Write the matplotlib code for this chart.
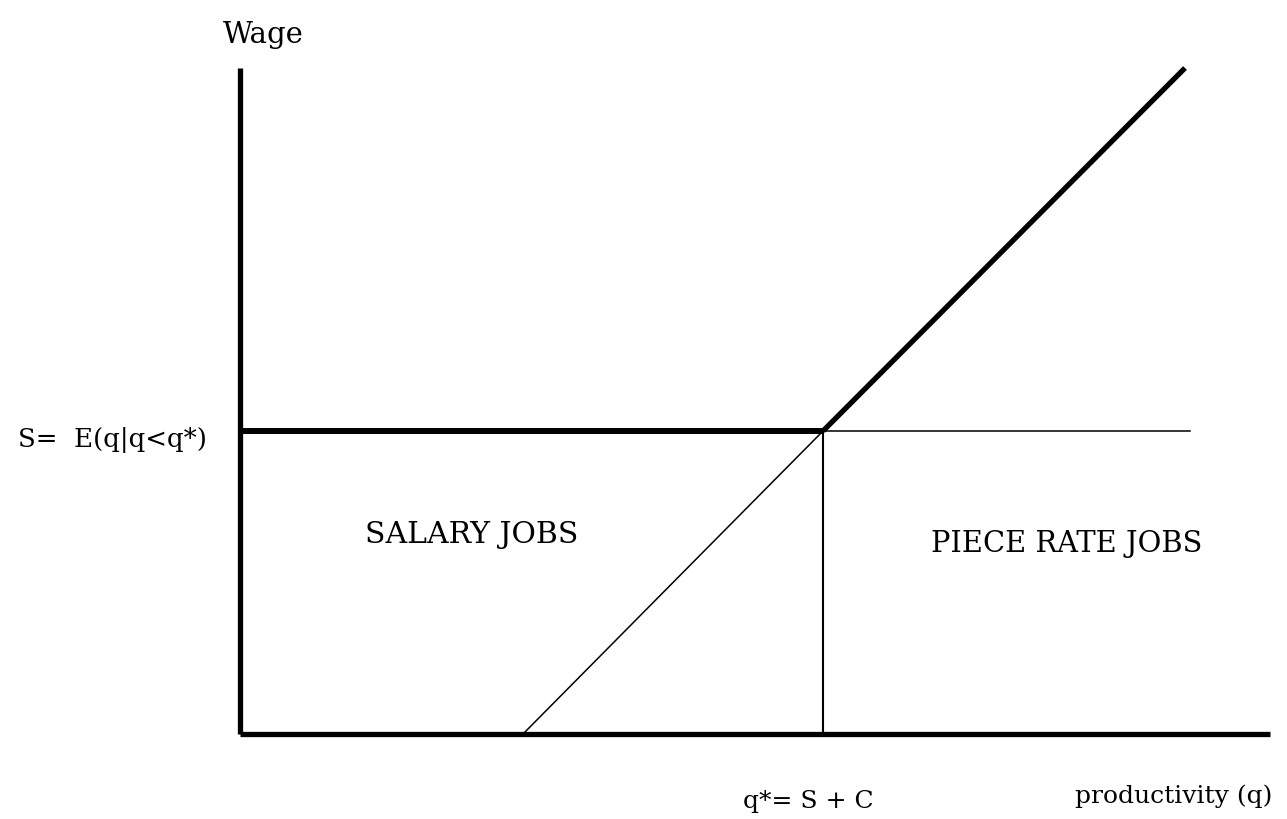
# Salary vs piece rate jobs diagram (wage against productivity)
import matplotlib
matplotlib.use('Agg')
import matplotlib.pyplot as plt

# Axis extents (arbitrary units, origin at the axes corner)
x_axis = [0.0, 10.30]
y_axis = [0.0, 6.66]

# Key values
S = 3.03          # salary level E(q|q<q*)
q_star = 5.83     # q* = S + C
C = 2.83          # where the piece rate line meets the x axis

# Piece rate line, thin part below q* and thick part above it
piece_low_x = [C, q_star]
piece_low_y = [0.0, S]
piece_high_x = [q_star, 9.45]
piece_high_y = [S, 6.66]

# Salary line, thick up to q* and thin after it
salary_thick_x = [0.0, q_star]
salary_thin_x = [q_star, 9.50]

labels = {
    'wage': 'Wage',
    'salary_level': 'S=  E(q|q<q*)',
    'salary_jobs': 'SALARY JOBS',
    'piece_jobs': 'PIECE RATE JOBS',
    'q_star': 'q*= S + C',
    'x_label': 'productivity (q)',
}

fig = plt.figure(figsize=(12.87, 8.2), dpi=100)
ax = fig.add_axes([0, 0, 1, 1])
ax.set_xlim(-2.40, 10.47)
ax.set_ylim(-0.85, 7.35)
ax.axis('off')

thick = 3.8
thin = 1.1
font = dict(family='DejaVu Serif', color='black')

# axes
ax.plot(x_axis, [0, 0], color='black', lw=thick, solid_capstyle='butt')
ax.plot([0, 0], y_axis, color='black', lw=thick, solid_capstyle='butt')

# salary line
ax.plot(salary_thick_x, [S, S], color='black', lw=thick + 0.5, solid_capstyle='butt')
ax.plot(salary_thin_x, [S, S], color='black', lw=thin)

# piece rate line
ax.plot(piece_low_x, piece_low_y, color='black', lw=thin)
ax.plot(piece_high_x, piece_high_y, color='black', lw=thick, solid_capstyle='butt')

# q* vertical
ax.plot([q_star, q_star], [0, S], color='black', lw=thin + 0.4)

# text
ax.text(-0.17, 6.92, labels['wage'], ha='left', va='baseline', fontsize=21, **font)
ax.text(-0.33, 2.88, labels['salary_level'], ha='right', va='baseline', fontsize=18.7, **font)
ax.text(2.32, 1.92, labels['salary_jobs'], ha='center', va='baseline', fontsize=21.5, **font)
ax.text(8.27, 1.83, labels['piece_jobs'], ha='center', va='baseline', fontsize=20.8, **font)
ax.text(5.03, -0.73, labels['q_star'], ha='left', va='baseline', fontsize=18, **font)
ax.text(8.35, -0.68, labels['x_label'], ha='left', va='baseline', fontsize=18, **font)

fig.savefig('out.png', dpi=100, facecolor='white')
